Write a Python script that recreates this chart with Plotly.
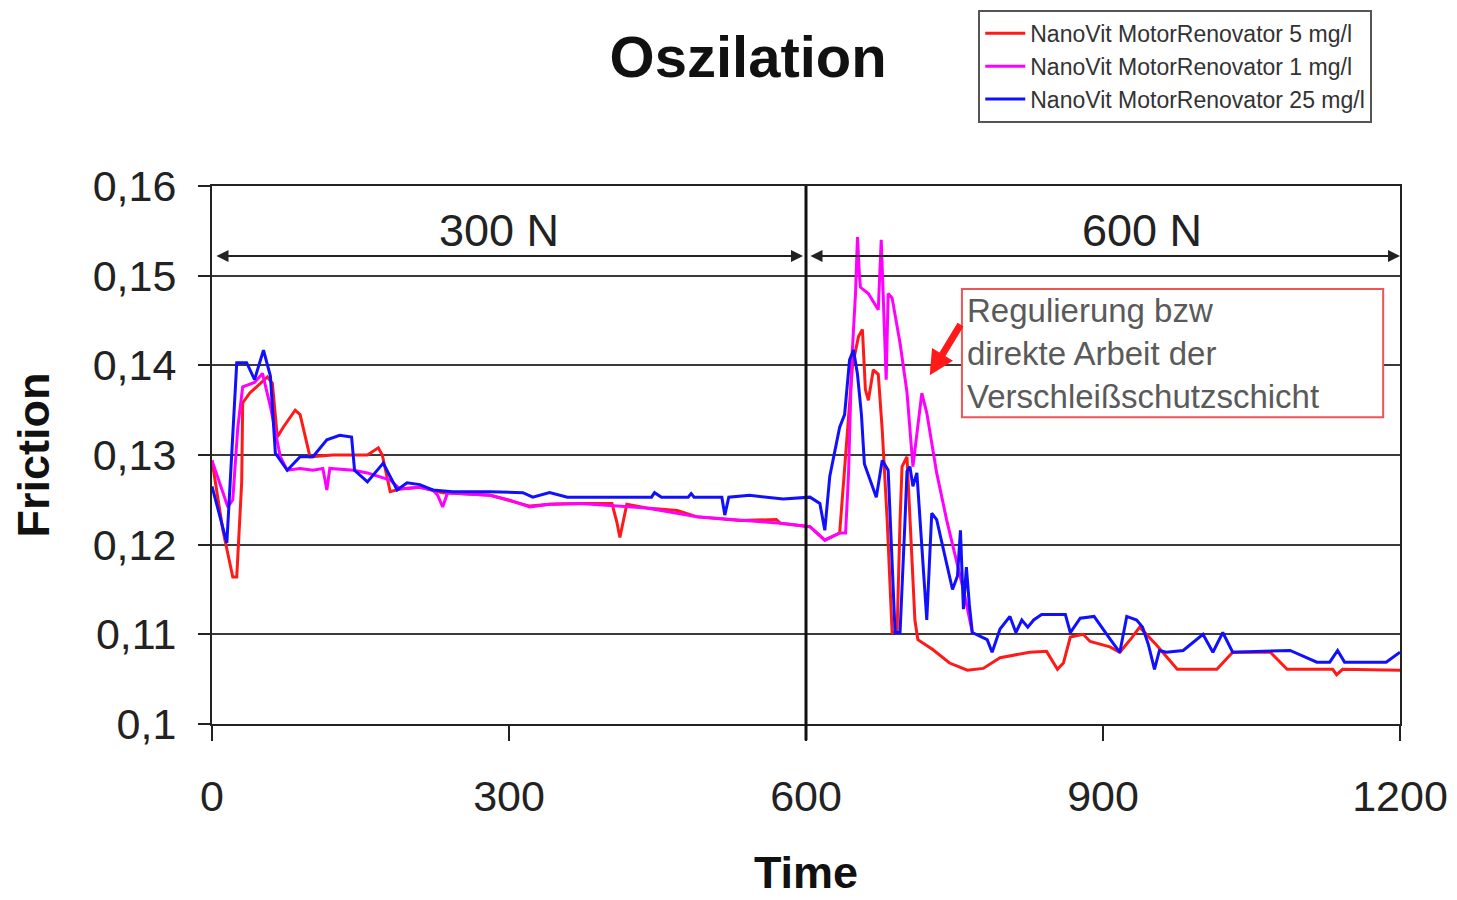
import plotly.graph_objects as go

# ---------------- data ----------------
red_name = "NanoVit MotorRenovator 5 mg/l"
pink_name = "NanoVit MotorRenovator 1 mg/l"
blue_name = "NanoVit MotorRenovator 25 mg/l"

red_x = [0, 11, 21, 25, 30, 31, 38, 45, 56, 61, 66, 72, 84, 89, 99, 122, 157, 168, 172, 180, 190,
         210, 233, 281, 321, 341, 372, 404, 409, 412, 415, 419, 439, 453, 470, 490, 533, 570, 574,
         604, 619, 634, 642, 647, 653, 657, 660, 663, 668, 673, 677, 682, 687, 692, 695, 697, 702,
         707, 710, 713, 728, 745, 763, 779, 796, 826, 843, 854, 860, 867, 880, 887, 907, 917, 929,
         937, 954, 975, 1015, 1031, 1069, 1086, 1132, 1136, 1142, 1200]
red_y = [0.1294, 0.1216, 0.1164, 0.1164, 0.1270, 0.1358, 0.1369, 0.1376, 0.1387, 0.1380, 0.1320,
         0.1331, 0.1350, 0.1345, 0.1298, 0.1300, 0.1300, 0.1308, 0.1300, 0.1259, 0.1262,
         0.1264, 0.1258, 0.1255, 0.1243, 0.1245, 0.1246, 0.1246, 0.1225, 0.1208, 0.1225, 0.1245,
         0.1241, 0.1240, 0.1238, 0.1231, 0.1227, 0.1228, 0.1224,
         0.1220, 0.1205, 0.1213, 0.1335, 0.1400, 0.1432, 0.1440, 0.1373, 0.1361, 0.1395, 0.1390,
         0.1328, 0.1227, 0.1102, 0.1102, 0.1227, 0.1287, 0.1298,
         0.1190, 0.1116, 0.1094, 0.1083, 0.1068, 0.1060, 0.1062, 0.1074, 0.1080, 0.1081, 0.1061,
         0.1068, 0.1097, 0.1100, 0.1092, 0.1086, 0.1080, 0.1096,
         0.1108, 0.1088, 0.1061, 0.1061, 0.1080, 0.1080, 0.1061, 0.1061, 0.1055, 0.1061, 0.1060]

pink_x = [0, 16, 21, 26, 31, 43, 51, 59, 69, 76, 89, 102, 112, 116, 119, 143, 157, 180, 190, 210,
          223, 228, 233, 238, 281, 300, 321, 341, 372, 439, 490, 574, 604, 619, 634, 640, 643, 646,
          650, 652, 654, 655, 663, 673, 676, 678, 681, 683, 687, 695, 702, 708, 712, 717, 722, 732,
          742, 752, 760, 768]
pink_y = [0.1294, 0.1242, 0.1250, 0.1330, 0.1376, 0.1381, 0.1391, 0.1354, 0.1298, 0.1283, 0.1285,
          0.1283, 0.1285, 0.1261, 0.1285, 0.1283, 0.1280, 0.1272, 0.1262, 0.1264,
          0.1261, 0.1255, 0.1242, 0.1258, 0.1255, 0.1250, 0.1242, 0.1245, 0.1246, 0.1241, 0.1231,
          0.1224, 0.1220, 0.1205, 0.1213, 0.1213, 0.1280, 0.1400,
          0.1480, 0.1543, 0.1500, 0.1487, 0.1480, 0.1462, 0.1540, 0.1480, 0.1384, 0.1480, 0.1475,
          0.1425, 0.1370, 0.1287, 0.1325, 0.1369, 0.1347, 0.1280,
          0.1228, 0.1183, 0.1145, 0.1102]

blue_x = [0, 15, 25, 35, 43, 52, 59, 64, 76, 89, 102, 116, 129, 141, 144, 157, 173, 187, 197, 210,
          223, 243, 281, 314, 324, 341, 359, 412, 444, 447, 454, 481, 484, 487, 515, 518, 522, 543,
          577, 604, 614, 619, 624, 634, 639, 644, 648, 652, 656, 659, 671, 677, 683, 690, 695, 700,
          702, 705, 708, 712, 715, 722, 727, 732, 748, 753, 756, 759, 762, 765, 768, 783, 788, 796,
          806, 812, 818, 824, 830, 838, 862, 867, 877, 891, 907, 917, 924, 934, 940, 946, 952, 957,
          964, 981, 1001, 1011, 1021, 1031, 1089, 1116, 1129, 1137, 1144, 1186, 1200]
blue_y = [0.1265, 0.1202, 0.1403, 0.1403, 0.1384, 0.1417, 0.1388, 0.1302, 0.1283, 0.1298, 0.1298,
          0.1317, 0.1322, 0.1320, 0.1283, 0.1270, 0.1291, 0.1261, 0.1269, 0.1267,
          0.1261, 0.1259, 0.1259, 0.1258, 0.1253, 0.1258, 0.1253, 0.1253, 0.1253, 0.1258, 0.1253,
          0.1253, 0.1257, 0.1253, 0.1253, 0.1233, 0.1253, 0.1255,
          0.1251, 0.1253, 0.1246, 0.1216, 0.1276, 0.1331, 0.1345, 0.1406, 0.1417, 0.1390, 0.1345,
          0.1290, 0.1253, 0.1294, 0.1283, 0.1102, 0.1102, 0.1227,
          0.1282, 0.1287, 0.1265, 0.1280, 0.1227, 0.1116, 0.1235, 0.1228, 0.1150, 0.1165, 0.1216,
          0.1128, 0.1175, 0.1133, 0.1102, 0.1094, 0.1080, 0.1106,
          0.1120, 0.1102, 0.1116, 0.1108, 0.1116, 0.1122, 0.1122, 0.1102, 0.1118, 0.1120, 0.1095,
          0.1080, 0.1120, 0.1116, 0.1108, 0.1088, 0.1061, 0.1082,
          0.1080, 0.1082, 0.1100, 0.1080, 0.1102, 0.1080, 0.1082, 0.1069, 0.1069, 0.1082, 0.1069,
          0.1069, 0.1080]

x_tick_vals = [0, 300, 600, 900, 1200]
x_tick_labels = ["0", "300", "600", "900", "1200"]
y_tick_vals = [0.10, 0.11, 0.12, 0.13, 0.14, 0.15, 0.16]
y_tick_labels = ["0,1", "0,11", "0,12", "0,13", "0,14", "0,15", "0,16"]

title_text = "Oszilation"
x_title = "Time"
y_title = "Friction"
load_labels = ["300 N", "600 N"]
note_lines = ["Regulierung bzw", "direkte Arbeit der", "Verschleißschutzschicht"]

# ---------------- figure ----------------
FONT = "Liberation Sans, Arial, sans-serif"
fig = go.Figure()
fig.add_trace(go.Scatter(x=red_x, y=red_y, mode="lines", name=red_name,
                         line=dict(color="#ff1a1a", width=3)))
fig.add_trace(go.Scatter(x=pink_x, y=pink_y, mode="lines", name=pink_name,
                         line=dict(color="#ff00ff", width=3)))
fig.add_trace(go.Scatter(x=blue_x, y=blue_y, mode="lines", name=blue_name,
                         line=dict(color="#1010ff", width=3)))

# vertical separator at 600
fig.add_shape(type="line", xref="x", yref="paper", x0=600, x1=600, y0=-0.03, y1=1,
              line=dict(color="#111", width=3))

# load range double arrows
arrow_y = 0.1522
for (xa, xb) in [(3, 597), (603, 1200)]:
    fig.add_annotation(x=xb, y=arrow_y, ax=xa, ay=arrow_y, xref="x", yref="y",
                       axref="x", ayref="y", text="", showarrow=True,
                       arrowhead=2, arrowsize=1.2, arrowwidth=2, arrowcolor="#222",
                       arrowside="end+start")
fig.add_annotation(x=290, y=0.155, xref="x", yref="y", text=load_labels[0],
                   showarrow=False, font=dict(family=FONT, size=45, color="#222"))
fig.add_annotation(x=939, y=0.155, xref="x", yref="y", text=load_labels[1],
                   showarrow=False, font=dict(family=FONT, size=45, color="#222"))

# note box (white filled, hides the gridline behind)
fig.add_shape(type="rect", xref="x", yref="y", x0=757.5, x1=1183, y0=0.1342, y1=0.1485,
              line=dict(color="#ee5555", width=2), fillcolor="white")
fig.add_annotation(x=761, y=0.14135, xref="x", yref="y", xanchor="left", yanchor="middle",
                   text="<br>".join(note_lines), align="left", showarrow=False,
                   font=dict(family=FONT, size=33, color="#5a5a5a"))
fig.add_annotation(x=725, y=0.1389, ax=757, ay=0.1447, xref="x", yref="y",
                   axref="x", ayref="y", text="", showarrow=True,
                   arrowhead=2, arrowsize=0.7, arrowwidth=7, arrowcolor="#ff1a1a")

fig.update_layout(
    width=1457, height=900,
    margin=dict(l=204, r=65, t=178, b=184),
    paper_bgcolor="white", plot_bgcolor="white",
    font=dict(family=FONT, color="#222"),
    title=dict(text="<b>" + title_text + "</b>", x=0.508, xanchor="center",
               y=0.9456, yanchor="middle", font=dict(family=FONT, size=58, color="#111")),
    showlegend=True,
    legend=dict(xref="paper", yref="container", x=0.645, y=0.998,
                xanchor="left", yanchor="top",
                bgcolor="white", bordercolor="#555", borderwidth=2,
                font=dict(family=FONT, size=23, color="#333"),
                tracegroupgap=0, itemwidth=40),
)
fig.update_xaxes(range=[0, 1200], tickvals=x_tick_vals, ticktext=x_tick_labels,
                 showgrid=False, zeroline=False, showline=True, linecolor="#222", linewidth=2,
                 mirror=True, ticks="outside", ticklen=15, tickwidth=2, tickcolor="#222",
                 ticklabelstandoff=18,
                 tickfont=dict(family=FONT, size=43, color="#222"),
                 title=dict(text="<b>" + x_title + "</b>", standoff=38,
                            font=dict(family=FONT, size=45, color="#111")))
fig.update_yaxes(range=[0.10, 0.16], tickvals=y_tick_vals, ticktext=y_tick_labels,
                 showgrid=True, gridcolor="#3a3a3a", gridwidth=2, zeroline=False,
                 showline=True, linecolor="#222", linewidth=2, mirror=True,
                 ticks="outside", ticklen=12, tickwidth=2, tickcolor="#222",
                 ticklabelstandoff=13,
                 tickfont=dict(family=FONT, size=43, color="#222"),
                 title=dict(text="<b>" + y_title + "</b>", standoff=33,
                            font=dict(family=FONT, size=45, color="#111")))

fig.write_html("out.html")
